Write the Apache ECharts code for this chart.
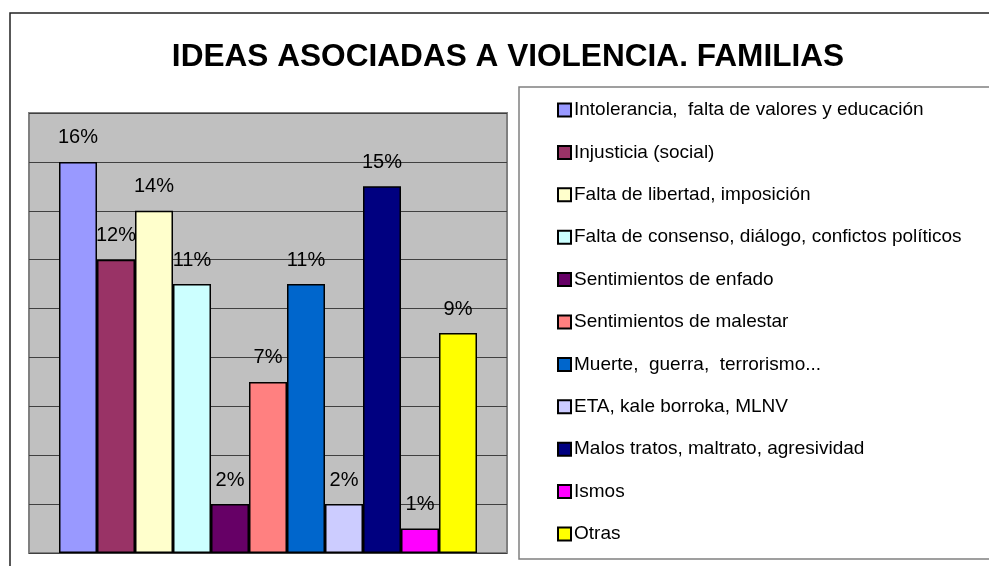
<!DOCTYPE html>
<html>
<head>
<meta charset="utf-8">
<script src="https://cdn.jsdelivr.net/npm/echarts@6/dist/echarts.min.js"></script>
<style>
html,body{margin:0;padding:0;background:#fff;}
#chart{width:989px;height:566px;}
</style>
</head>
<body>
<div id="chart"></div>
<script>
var title = 'IDEAS ASOCIADAS A VIOLENCIA. FAMILIAS';
var categories = ['Familias'];
var seriesNames = [
  'Intolerancia,  falta de valores y educación',
  'Injusticia (social)',
  'Falta de libertad, imposición',
  'Falta de consenso, diálogo, confictos políticos',
  'Sentimientos de enfado',
  'Sentimientos de malestar',
  'Muerte,  guerra,  terrorismo...',
  'ETA, kale borroka, MLNV',
  'Malos tratos, maltrato, agresividad',
  'Ismos',
  'Otras'
];
var seriesValues = [16, 12, 14, 11, 2, 7, 11, 2, 15, 1, 9];
var seriesColors = ['#9999FF','#993366','#FFFFCC','#CCFFFF','#660066','#FF8080','#0066CC','#CCCCFF','#000080','#FF00FF','#FFFF00'];
var yTicks = [0, 2, 4, 6, 8, 10, 12, 14, 16, 18];

var font = '"Liberation Sans", Arial, sans-serif';
var chart = echarts.init(document.getElementById('chart'), null, {renderer: 'canvas'});

var series = seriesNames.map(function (name, i) {
  return {
    name: name,
    type: 'bar',
    data: [seriesValues[i]],
    barWidth: 38,
    barGap: '0%',
    itemStyle: {color: seriesColors[i], borderColor: '#000', borderWidth: 1.5},
    label: {
      show: true, position: 'top', distance: 14,
      formatter: '{c}%', color: '#000', fontSize: 20, fontFamily: font
    },
    emphasis: {disabled: true}
  };
});

chart.setOption({
  animation: false,
  backgroundColor: '#fff',
  title: {
    text: title, left: 503, top: 36, textAlign: 'center',
    textStyle: {fontSize: 31.6, fontWeight: 'bold', color: '#000', fontFamily: font}
  },
  graphic: [
    {type: 'rect', shape: {x: 10, y: 13, width: 1000, height: 600}, style: {fill: 'none', stroke: '#222', lineWidth: 1.5}, silent: true},
    {type: 'rect', shape: {x: 519, y: 87, width: 500, height: 472}, style: {fill: 'none', stroke: '#808080', lineWidth: 1.5}, silent: true}
  ],
  legend: {
    orient: 'vertical', left: 557, top: 100.5, padding: 0,
    itemWidth: 13, itemHeight: 13, itemGap: 23.4,
    icon: 'rect',
    textStyle: {fontSize: 19, lineHeight: 19, color: '#000', fontFamily: font, padding: [0,0,0,-2]},
    data: seriesNames
  },
  grid: {
    left: 29, top: 113, width: 478, height: 440,
    show: true, backgroundColor: '#C0C0C0', borderColor: '#808080', borderWidth: 2
  },
  xAxis: {
    type: 'category', data: categories,
    axisLine: {show: false}, axisTick: {show: false}, axisLabel: {show: false}
  },
  yAxis: {
    type: 'value', min: yTicks[0], max: yTicks[yTicks.length - 1], interval: 2,
    axisLine: {show: false}, axisTick: {show: false}, axisLabel: {show: false},
    splitLine: {show: true, lineStyle: {color: '#404040', width: 1}}
  },
  series: series
});
</script>
</body>
</html>
